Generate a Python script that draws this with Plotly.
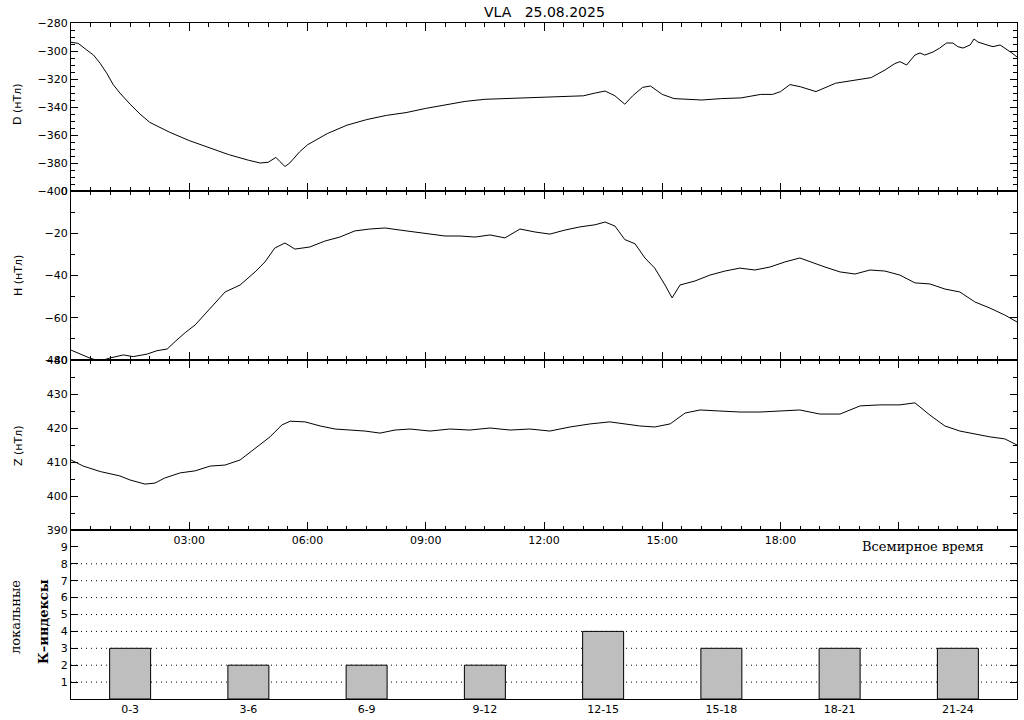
import plotly.graph_objects as go

# ---------------- data ----------------
D_hours = [0, 0.18, 0.40, 0.57, 0.74, 0.91, 1.07, 1.24, 1.5, 1.75, 2.0, 2.5, 3.0, 3.5, 4.0, 4.5,
           4.8, 5.0, 5.2, 5.3, 5.43, 5.55, 5.8, 6.0, 6.5, 7.0, 7.5, 8.0, 8.5, 9.0, 9.5, 10.0,
           10.5, 11.0, 11.5, 12.0, 12.5, 13.0, 13.3, 13.55, 13.8, 14.05, 14.25, 14.5, 14.7,
           15.0, 15.3, 15.6, 16.0, 16.5, 17.0, 17.5, 17.8, 18.0, 18.24, 18.5, 18.9, 19.4,
           19.9, 20.3, 20.65, 20.9, 21.03, 21.2, 21.41, 21.54, 21.66, 21.87, 22.04, 22.21,
           22.37, 22.50, 22.63, 22.81, 22.91, 23.01, 23.24, 23.39, 23.57, 23.69, 23.87, 24.0]
D_vals = [-293.8, -294.5, -299.3, -302.9, -308.8, -316, -324, -330, -338, -345, -351, -358,
          -364, -369, -374, -378, -380, -379.5, -376, -379, -382.5, -380, -372, -367, -359,
          -353, -349, -346, -344, -341, -338.5, -336, -334.5, -334, -334, -333.5, -332.5,
          -332, -330, -328.6, -332, -338, -332, -326, -325, -331, -334, -334.5, -335, -334,
          -333.5, -331, -331, -329, -324, -325.5, -329, -323, -320.7, -319, -313.6, -309,
          -307.6, -310, -302.9, -301.4, -302.9, -300.7, -297.9, -294.3, -294.3, -296.9,
          -297.9, -295.7, -291.4, -293.6, -295.7, -296.9, -295.7, -297.9, -301.4, -304.3]

H_hours = [0, 0.23, 0.49, 0.65, 0.82, 1.0, 1.33, 1.58, 1.93, 2.18, 2.44, 2.64, 2.9, 3.15,
           3.53, 3.91, 4.29, 4.67, 4.92, 5.17, 5.43, 5.68, 6.06, 6.44, 6.82, 7.2, 7.58, 7.97,
           8.35, 8.73, 9.11, 9.49, 9.87, 10.25, 10.63, 11.01, 11.39, 11.77, 12.15, 12.53,
           12.91, 13.29, 13.55, 13.8, 14.05, 14.31, 14.56, 14.81, 15.07, 15.25, 15.45, 15.83,
           16.21, 16.59, 16.97, 17.35, 17.73, 18.11, 18.49, 18.75, 19.13, 19.51, 19.89,
           20.27, 20.65, 21.03, 21.41, 21.79, 22.17, 22.55, 22.93, 23.31, 23.69, 24.0]
H_vals = [-75.3, -77, -79.2, -80, -80, -79, -77.6, -78.4, -77.2, -75.6, -74.8, -71.3, -67,
          -63.4, -55.4, -47.8, -44.5, -38.3, -33.6, -27, -24.6, -27.5, -26.5, -23.7, -21.8,
          -18.9, -18, -17.5, -18.5, -19.4, -20.4, -21.3, -21.3, -21.8, -20.8, -22.2, -18,
          -19.4, -20.4, -18.5, -17, -16, -14.7, -16.6, -23, -25, -31.7, -36.5, -44.5, -50.6,
          -44.5, -42.6, -39.8, -37.9, -36.5, -37.4, -36, -33.6, -31.7, -33.6, -36, -38.3,
          -39.3, -37.4, -37.9, -39.8, -43.5, -44, -46.4, -47.8, -52.5, -55.4, -58.7, -62]

Z_hours = [0, 0.31, 0.74, 1.12, 1.24, 1.5, 1.88, 2.13, 2.38, 2.77, 3.15, 3.53, 3.91, 4.29,
           4.67, 5.05, 5.35, 5.56, 5.94, 6.32, 6.7, 7.08, 7.46, 7.84, 8.22, 8.6, 9.11, 9.61,
           10.12, 10.63, 11.14, 11.64, 12.15, 12.66, 13.17, 13.67, 14.05, 14.43, 14.81,
           15.2, 15.58, 15.96, 16.46, 16.97, 17.48, 17.99, 18.49, 19.0, 19.51, 20.02, 20.52,
           21.03, 21.41, 21.79, 22.17, 22.55, 22.93, 23.31, 23.69, 24.0]
Z_vals = [410.6, 408.8, 407.2, 406.2, 405.9, 404.7, 403.5, 403.8, 405.3, 406.8, 407.4,
          408.8, 409.1, 410.6, 414, 417.4, 420.9, 422, 421.8, 420.6, 419.7, 419.4, 419.1,
          418.5, 419.4, 419.7, 419.1, 419.7, 419.4, 420, 419.4, 419.7, 419.1, 420.3, 421.2,
          421.8, 421.2, 420.6, 420.3, 421.2, 424.4, 425.3, 425, 424.7, 424.7, 425, 425.3,
          424.1, 424.1, 426.5, 426.8, 426.8, 427.4, 423.8, 420.6, 419.1, 418.2, 417.4,
          416.8, 415]

K_labels = ["0-3", "3-6", "6-9", "9-12", "12-15", "15-18", "18-21", "21-24"]
K_centers = [1.5, 4.5, 7.5, 10.5, 13.5, 16.5, 19.5, 22.5]
K_vals = [3, 2, 2, 2, 4, 3, 3, 3]

time_ticks = [3, 6, 9, 12, 15, 18, 21]
time_labels = ["03:00", "06:00", "09:00", "12:00", "15:00", "18:00", ""]
K_ticks = [1, 2, 3, 4, 5, 6, 7, 8, 9]
K_grid = [1, 2, 3, 4, 5, 6, 7, 8]

# ---------------- figure ----------------
W, H = 1024, 720
X0, X1 = 71 / W, 1017 / W

def py(p):
    return 1 - p / H

TICKFONT = dict(family="DejaVu Sans", size=11, color="black")

fig = go.Figure()
line = dict(color="black", width=1)
fig.add_trace(go.Scatter(x=D_hours, y=D_vals, mode="lines", line=line, xaxis="x", yaxis="y"))
fig.add_trace(go.Scatter(x=H_hours, y=H_vals, mode="lines", line=line, xaxis="x2", yaxis="y2"))
fig.add_trace(go.Scatter(x=Z_hours, y=Z_vals, mode="lines", line=line, xaxis="x3", yaxis="y3"))
fig.add_trace(go.Bar(x=K_centers, y=K_vals, width=1.04, marker=dict(color="#bebebe", line=dict(color="black", width=1)),
                     xaxis="x4", yaxis="y4"))

def time_axis(anchor, labels):
    return dict(domain=[X0, X1], anchor=anchor, range=[0, 24], tickvals=time_ticks,
                ticktext=time_labels, showticklabels=labels, ticks="inside", ticklen=8,
                tickcolor="black", showline=True, linecolor="black", linewidth=1,
                mirror="ticks", showgrid=False, zeroline=False, tickfont=TICKFONT,
                automargin=False,
                minor=dict(dtick=0.5, tick0=0, ticks="inside", ticklen=4, tickcolor="black"))

def val_axis(anchor, dom, rng, dt, mdt):
    return dict(domain=dom, anchor=anchor, range=rng, dtick=dt, tick0=0, ticks="inside",
                ticklen=7, tickcolor="black", showline=True, linecolor="black", linewidth=1,
                mirror="ticks", showgrid=False, zeroline=False, tickfont=TICKFONT,
                automargin=False,
                minor=dict(dtick=mdt, tick0=0, ticks="inside", ticklen=4, tickcolor="black"))

fig.update_layout(
    width=W, height=H, margin=dict(l=0, r=0, t=0, b=0, autoexpand=False),
    paper_bgcolor="white", plot_bgcolor="white", showlegend=False,
    xaxis=time_axis("y", False),
    yaxis=val_axis("x", [py(191), py(23)], [-400, -280], 20, 5),
    xaxis2=time_axis("y2", False),
    yaxis2=val_axis("x2", [py(360), py(191)], [-80, 0], 20, 10),
    xaxis3=time_axis("y3", True),
    yaxis3=val_axis("x3", [py(530), py(360)], [390, 440], 10, 5),
    xaxis4=dict(domain=[X0, X1], anchor="y4", range=[0, 24], tickvals=K_centers,
                ticktext=K_labels, ticks="", showline=True, linecolor="black", linewidth=1,
                mirror=True, showgrid=False, zeroline=False, tickfont=TICKFONT, automargin=False),
    yaxis4=dict(domain=[py(699), py(530)], anchor="x4", range=[0, 10], tickvals=K_ticks,
                ticks="inside", ticklen=7, tickcolor="black", showline=True, linecolor="black",
                linewidth=1, mirror="ticks", showgrid=False, zeroline=False, tickfont=TICKFONT,
                automargin=False),
)

for k in K_grid:
    fig.add_shape(type="line", xref="x4 domain", yref="y4", x0=0, x1=1, y0=k, y1=k,
                  line=dict(color="black", width=1, dash="1px,4px"), layer="below")

ann = [
    dict(text="VLA   25.08.2025", x=544 / W, y=py(12), font=dict(family="DejaVu Sans", size=14)),
    dict(text="D (нТл)", x=18 / W, y=py(104), textangle=-90, font=dict(family="DejaVu Sans", size=11)),
    dict(text="H (нТл)", x=18 / W, y=py(276), textangle=-90, font=dict(family="DejaVu Sans", size=11)),
    dict(text="Z (нТл)", x=18 / W, y=py(446), textangle=-90, font=dict(family="DejaVu Sans", size=11)),
    dict(text="Всемирное время", x=923 / W, y=py(546), font=dict(family="DejaVu Serif", size=13)),
    dict(text="локальные", x=15 / W, y=py(617), textangle=-90, font=dict(family="DejaVu Serif", size=13)),
    dict(text="<b>К–индексы</b>", x=43 / W, y=py(622), textangle=-90, font=dict(family="DejaVu Serif", size=13)),
]
for a in ann:
    a.update(xref="paper", yref="paper", showarrow=False, xanchor="center", yanchor="middle")
    a["font"]["color"] = "black"
    fig.add_annotation(**a)

fig.write_html("out.html", config={"displayModeBar": False},
               post_script="document.body.style.margin='0px';document.body.style.padding='0px';")
